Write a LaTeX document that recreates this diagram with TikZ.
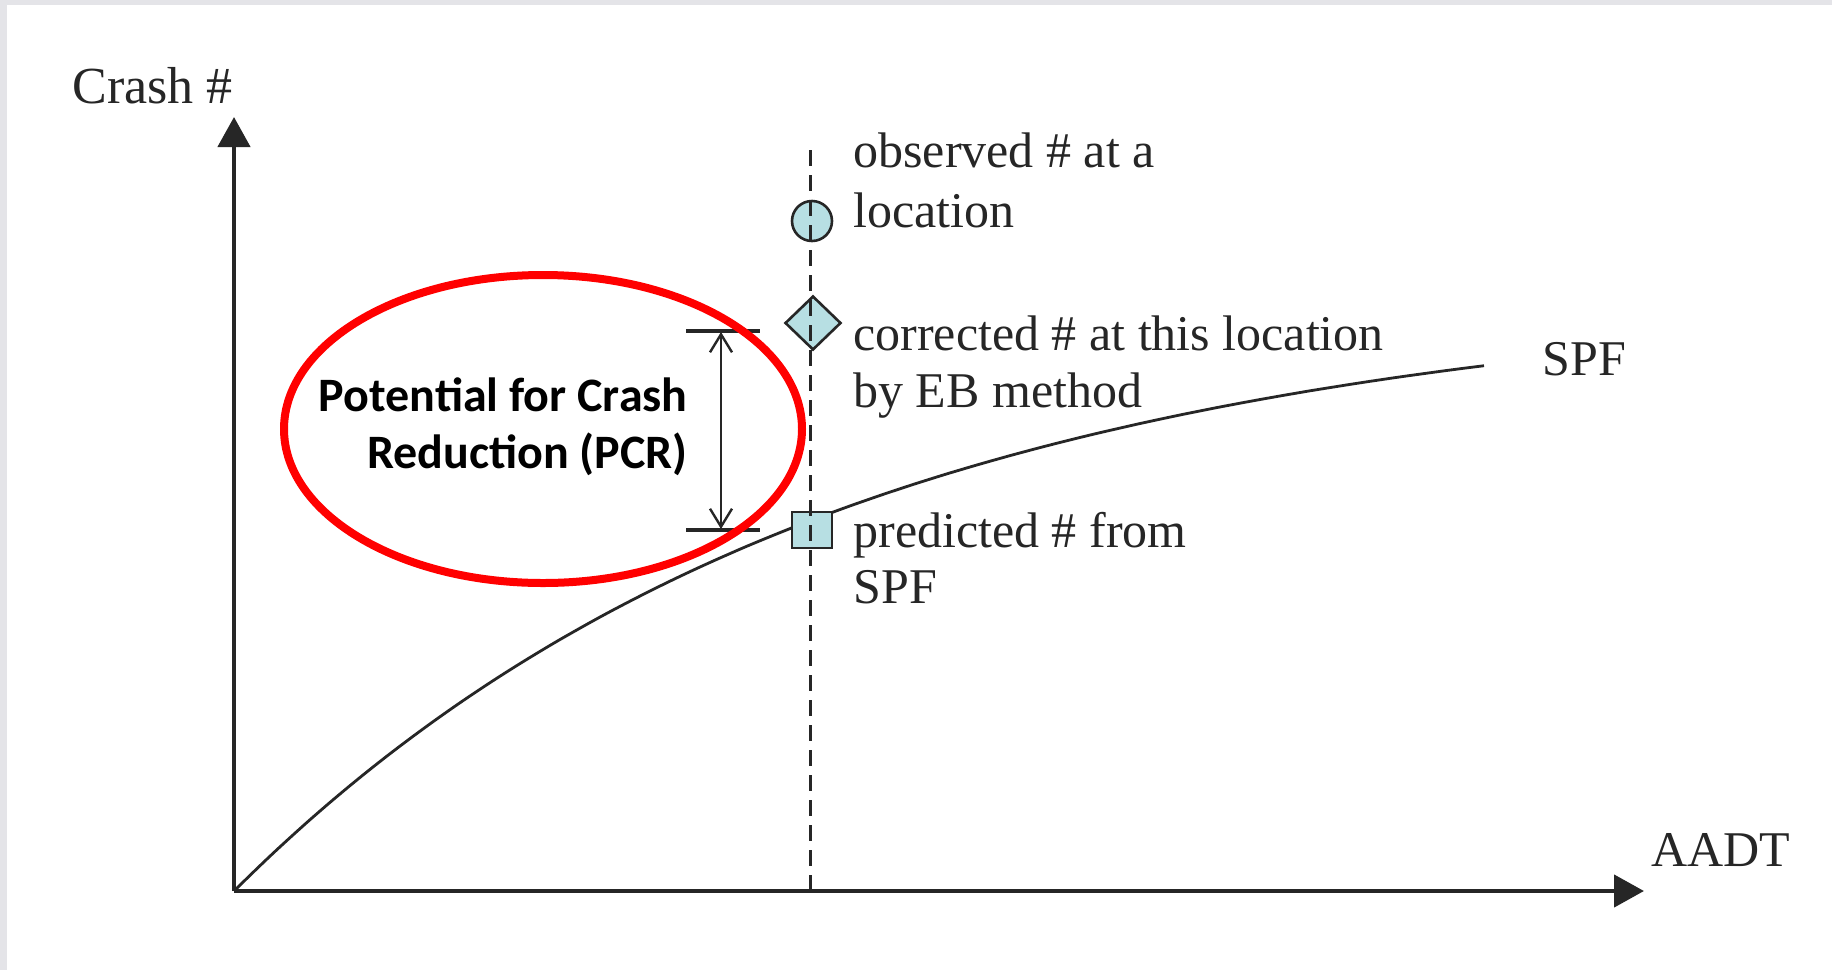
\documentclass[tikz,border=0pt]{standalone}
\usepackage{fontspec}
\setmainfont{Liberation Serif}
\newfontfamily\pcrfont{Carlito}
\usetikzlibrary{arrows.meta,shapes.geometric}
\definecolor{markfill}{HTML}{B7DFE3}
\definecolor{ink}{HTML}{262626}
\definecolor{framegray}{HTML}{E4E4E8}
\newcommand\pcrtext{\vtop{\halign{\hfil##\cr Potential for Crash\cr Reduction (PCR)\cr}}}
\begin{document}
\begin{tikzpicture}[x=0.5pt,y=-0.5pt,
  lbl/.style={anchor=base west, inner sep=0pt, text=ink, font=\fontsize{25}{29}\selectfont},
  marker/.style={draw=ink, line width=1.3pt, fill=markfill, inner sep=0pt},
  axisline/.style={line width=2.2pt, draw=ink, -{Triangle[length=15pt,width=16pt]}},
  tickline/.style={line width=1.6pt, draw=ink},
  spfcurve/.style={line width=1.4pt, draw=ink},
  guide/.style={line width=1.5pt, draw=ink, dash pattern=on 8pt off 4.5pt},
  ring/.style={line width=4pt, draw=red}
]
\useasboundingbox (0,0) rectangle (1832,970);
\fill[framegray] (0,0) rectangle (1832,970);
\fill[white] (7,5) rectangle (1832,970);

% axes
\coordinate (O) at (234,891);
\coordinate (ytip) at (234,117);
\coordinate (xtip) at (1644,891);
\draw[axisline] (O) -- (ytip);
\draw[axisline] (O) -- (xtip);
\node[lbl, font=\fontsize{26}{29}\selectfont] (ylab) at (72,103) {Crash \#};
\node[lbl] (xlab) at (1651,866) {AADT};

% SPF curve
\draw[spfcurve] plot[domain=0:1250, samples=120, smooth] ({234+\x},{891-600*(1-exp(-\x/600))});
\node[lbl] (spflab) at (1542,375) {SPF};

% markers
\node[marker, circle, minimum size=20pt] (obs) at (812,221) {};
\node[marker, diamond, minimum width=28pt, minimum height=27pt] (cor) at (813,323) {};
\node[marker, rectangle, minimum width=20pt, minimum height=18pt] (pred) at (812,530) {};

% dashed guide
\coordinate (dtop) at (810,150);
\coordinate (dbot) at (810,891);
\draw[guide] (dtop) -- (dbot);

% labels
\node[lbl] (obslab) at (853,167) {\vtop{\baselineskip=30pt\hbox{observed \# at a}\hbox{location}}};
\node[lbl] (corlab) at (853,350) {\vtop{\baselineskip=28.5pt\hbox{corrected \# at this location}\hbox{by EB method}}};
\node[lbl] (predlab) at (853,547) {\vtop{\baselineskip=28pt\hbox{predicted \# from}\hbox{SPF}}};

% PCR dimension
\coordinate (tTl) at (686,331);
\coordinate (tTr) at (760,331);
\coordinate (tBl) at (686,530);
\coordinate (tBr) at (760,530);
\coordinate (pT) at (721,332);
\coordinate (pB) at (721,529);
\draw[tickline] (tTl) -- (tTr);
\draw[tickline] (tBl) -- (tBr);
\draw[line width=1.2pt, draw=ink, {Straight Barb[length=9pt,width=11pt]}-{Straight Barb[length=9pt,width=11pt]}] (pT) -- (pB);

\node[anchor=base east, inner sep=0pt, font=\pcrfont\bfseries\fontsize{24}{28.5}\selectfont] (pcr) at (688,411) {\pcrtext};

% red ring
\draw[ring] (543,429) ellipse [x radius=259, y radius=154];
\end{tikzpicture}
\end{document}
